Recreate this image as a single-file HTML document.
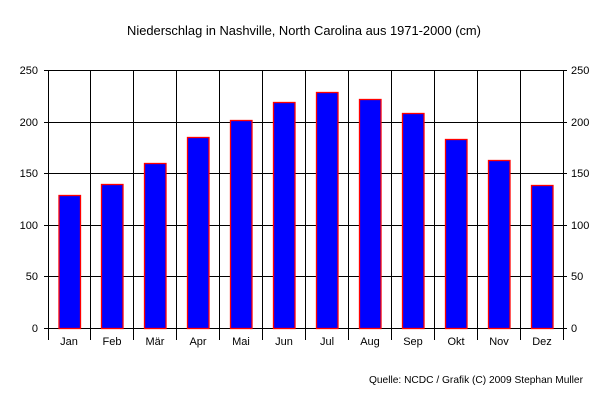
<!DOCTYPE html><html><head><style>body{margin:0;background:#fff}svg{display:block}text{font-family:"Liberation Sans",sans-serif;font-size:11px;fill:#000}</style></head><body>
<svg width="609" height="409" xmlns="http://www.w3.org/2000/svg">
<rect width="609" height="409" fill="#fff"/>
<text x="304" y="35" text-anchor="middle" style="font-size:12.9px">Niederschlag in Nashville, North Carolina aus 1971-2000 (cm)</text>
<g stroke="#000" stroke-width="1" shape-rendering="crispEdges">
<line x1="44" y1="70.5" x2="567" y2="70.5"/>
<line x1="44" y1="122.5" x2="567" y2="122.5"/>
<line x1="44" y1="173.5" x2="567" y2="173.5"/>
<line x1="44" y1="225.5" x2="567" y2="225.5"/>
<line x1="44" y1="276.5" x2="567" y2="276.5"/>
<line x1="44" y1="328.5" x2="567" y2="328.5"/>
<line x1="48.5" y1="70" x2="48.5" y2="340"/>
<line x1="90.5" y1="70" x2="90.5" y2="340"/>
<line x1="133.5" y1="70" x2="133.5" y2="340"/>
<line x1="176.5" y1="70" x2="176.5" y2="340"/>
<line x1="219.5" y1="70" x2="219.5" y2="340"/>
<line x1="262.5" y1="70" x2="262.5" y2="340"/>
<line x1="305.5" y1="70" x2="305.5" y2="340"/>
<line x1="348.5" y1="70" x2="348.5" y2="340"/>
<line x1="391.5" y1="70" x2="391.5" y2="340"/>
<line x1="434.5" y1="70" x2="434.5" y2="340"/>
<line x1="477.5" y1="70" x2="477.5" y2="340"/>
<line x1="520.5" y1="70" x2="520.5" y2="340"/>
<line x1="563.5" y1="70" x2="563.5" y2="340"/>
</g>
<g fill="#0000ff" stroke="#ff0000" stroke-width="1.3">
<rect x="59" y="195.5" width="21.5" height="133"/>
<rect x="101.5" y="184.5" width="21.5" height="144"/>
<rect x="144.5" y="163.5" width="21.5" height="165"/>
<rect x="187.5" y="137.5" width="21.5" height="191"/>
<rect x="230.5" y="120.5" width="21.5" height="208"/>
<rect x="273.5" y="102.5" width="21.5" height="226"/>
<rect x="316.5" y="92.5" width="21.5" height="236"/>
<rect x="359.5" y="99.5" width="21.5" height="229"/>
<rect x="402.5" y="113.5" width="21.5" height="215"/>
<rect x="445.5" y="139.5" width="21.5" height="189"/>
<rect x="488.5" y="160.5" width="21.5" height="168"/>
<rect x="531.5" y="185.5" width="21.5" height="143"/>
</g>
<g text-anchor="end">
<text x="38" y="74">250</text><text x="38" y="126">200</text><text x="38" y="177">150</text><text x="38" y="229">100</text><text x="38" y="280">50</text><text x="38" y="332">0</text>
</g>
<g>
<text x="571" y="74">250</text><text x="571" y="126">200</text><text x="571" y="177">150</text><text x="571" y="229">100</text><text x="571" y="280">50</text><text x="571" y="332">0</text>
</g>
<g text-anchor="middle">
<text x="69" y="345">Jan</text><text x="112" y="345">Feb</text><text x="155" y="345">Mär</text><text x="198" y="345">Apr</text><text x="241" y="345">Mai</text><text x="284" y="345">Jun</text><text x="327" y="345">Jul</text><text x="370" y="345">Aug</text><text x="413" y="345">Sep</text><text x="456" y="345">Okt</text><text x="499" y="345">Nov</text><text x="542" y="345">Dez</text>
</g>
<text x="583" y="383" text-anchor="end" style="font-size:10.2px">Quelle: NCDC / Grafik (C) 2009 Stephan Muller</text>
</svg></body></html>
